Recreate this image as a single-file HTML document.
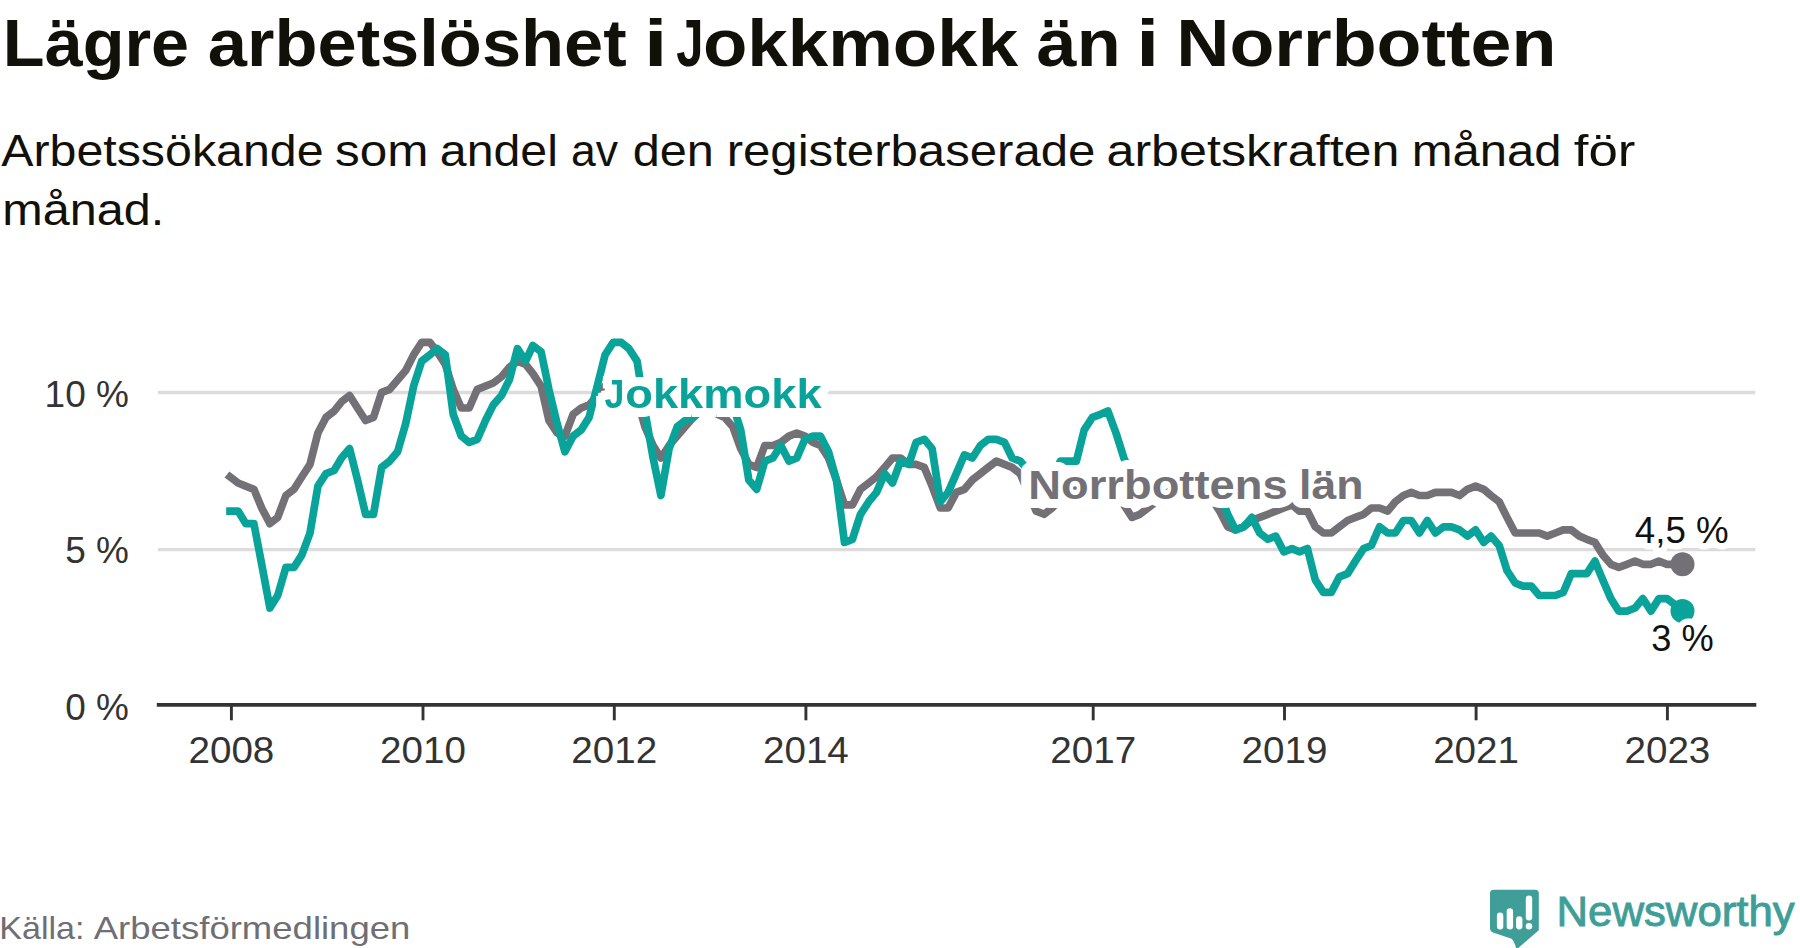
<!DOCTYPE html>
<html lang="sv"><head><meta charset="utf-8"><title>Lägre arbetslöshet i Jokkmokk än i Norrbotten</title>
<style>
html,body{margin:0;padding:0;background:#fff;}
body{width:1800px;height:948px;overflow:hidden;}
svg{display:block;font-family:"Liberation Sans", sans-serif;}
</style></head><body>
<svg width="1800" height="948" viewBox="0 0 1800 948">
<defs><filter id="halo" filterUnits="userSpaceOnUse" x="580" y="350" width="270" height="90" color-interpolation-filters="sRGB">
<feMorphology in="SourceAlpha" operator="dilate" radius="9 3.7" result="a"/>
<feMorphology in="SourceAlpha" operator="dilate" radius="3.7 9" result="b"/>
<feMorphology in="SourceAlpha" operator="dilate" radius="6.6 6.6" result="c"/>
<feMerge result="m"><feMergeNode in="a"/><feMergeNode in="b"/><feMergeNode in="c"/></feMerge>
<feFlood flood-color="#fff" result="w"/>
<feComposite in="w" in2="m" operator="in" result="h"/>
<feMerge><feMergeNode in="h"/><feMergeNode in="SourceGraphic"/></feMerge>
</filter></defs>
<rect width="1800" height="948" fill="#fff"/>
<text id="title" y="65.5" font-size="66" font-weight="bold" fill="#11110a"><tspan x="2.86" textLength="186.23" lengthAdjust="spacingAndGlyphs">Lägre</tspan> <tspan x="207.87" textLength="418.88" lengthAdjust="spacingAndGlyphs">arbetslöshet</tspan> <tspan x="644.11" textLength="23.44" lengthAdjust="spacingAndGlyphs">i</tspan> <tspan x="676.26" textLength="27.24" lengthAdjust="spacingAndGlyphs">J</tspan><tspan x="702.95" textLength="315.21" lengthAdjust="spacingAndGlyphs">okkmokk</tspan> <tspan x="1036.57" textLength="84.08" lengthAdjust="spacingAndGlyphs">än</tspan> <tspan x="1136.25" textLength="22.93" lengthAdjust="spacingAndGlyphs">i</tspan> <tspan x="1176.29" textLength="380.13" lengthAdjust="spacingAndGlyphs">Norrbotten</tspan></text>
<text id="sub1" y="165.7" font-size="44" font-weight="normal" fill="#11110a"><tspan x="1.25" textLength="322.28" lengthAdjust="spacingAndGlyphs">Arbetssökande</tspan> <tspan x="335.13" textLength="93.38" lengthAdjust="spacingAndGlyphs">som</tspan> <tspan x="439.81" textLength="118.13" lengthAdjust="spacingAndGlyphs">andel</tspan> <tspan x="570.98" textLength="47.01" lengthAdjust="spacingAndGlyphs">av</tspan> <tspan x="632.79" textLength="81.14" lengthAdjust="spacingAndGlyphs">den</tspan> <tspan x="726.65" textLength="368.81" lengthAdjust="spacingAndGlyphs">registerbaserade</tspan> <tspan x="1106.47" textLength="292.99" lengthAdjust="spacingAndGlyphs">arbetskraften</tspan> <tspan x="1411.66" textLength="149.93" lengthAdjust="spacingAndGlyphs">månad</tspan> <tspan x="1573.8" textLength="61.63" lengthAdjust="spacingAndGlyphs">för</tspan></text>
<text id="sub2" y="225.2" font-size="44" font-weight="normal" fill="#11110a"><tspan x="2.19" textLength="161.97" lengthAdjust="spacingAndGlyphs">månad.</tspan></text>
<line x1="158" x2="1755.3" y1="549.6" y2="549.6" stroke="#dcdcdc" stroke-width="3.4"/>
<line x1="158" x2="1755.3" y1="392.5" y2="392.5" stroke="#dcdcdc" stroke-width="3.4"/>
<text id="y0" x="128.9" y="719.7" font-size="36" font-weight="normal" fill="#333" text-anchor="end" textLength="63.7" lengthAdjust="spacingAndGlyphs">0 %</text>
<text id="y5" x="128.9" y="563.4" font-size="36" font-weight="normal" fill="#333" text-anchor="end" textLength="63.7" lengthAdjust="spacingAndGlyphs">5 %</text>
<text id="y10" x="128.9" y="406.5" font-size="36" font-weight="normal" fill="#333" text-anchor="end" textLength="84.3" lengthAdjust="spacingAndGlyphs">10 %</text>
<path d="M230.0,476.8L238.1,483.0L245.7,486.1L253.9,489.3L261.7,508.0L269.9,523.6L277.7,517.4L285.9,495.5L294.0,489.3L301.9,476.8L310.0,464.3L317.9,433.0L326.0,417.4L334.1,411.1L341.5,401.8L349.6,395.5L357.5,408.0L365.6,420.5L373.5,417.4L381.6,392.4L389.7,389.3L397.6,379.9L405.7,370.5L413.6,354.9L421.7,342.4L429.9,342.4L437.2,351.8L445.3,364.3L453.2,389.3L461.3,408.0L469.2,408.0L477.3,389.3L485.5,386.1L493.3,383.0L501.5,376.8L509.3,367.4L517.5,361.1L525.6,364.3L532.9,373.6L541.1,386.1L548.9,420.5L557.1,433.0L564.9,436.1L573.1,414.3L581.2,408.0L589.1,404.9L597.2,395.5L605.1,386.1L613.2,379.9L621.3,379.9L628.9,386.1L637.1,398.6L644.9,426.8L653.1,445.5L660.9,458.0L669.1,445.5L677.2,436.1L685.1,426.8L693.2,417.4L701.1,411.1L709.2,408.0L717.3,414.3L724.7,417.4L732.8,426.8L740.7,448.6L748.8,464.3L756.7,467.4L764.8,445.5L772.9,445.5L780.8,442.4L788.9,436.1L796.8,433.0L804.9,436.1L813.0,442.4L820.4,445.5L828.5,458.0L836.4,479.9L844.5,504.9L852.4,504.9L860.5,489.3L868.7,483.0L876.5,476.8L884.7,467.4L892.5,458.0L900.6,458.0L908.8,464.3L916.1,464.3L924.3,467.4L932.1,486.1L940.3,508.0L948.1,508.0L956.3,492.4L964.4,489.3L972.3,479.9L980.4,473.6L988.3,467.4L996.4,461.1L1004.5,464.3L1012.1,467.4L1020.2,473.6L1028.1,492.4L1036.2,511.1L1044.1,514.3L1052.2,508.0L1060.4,498.6L1068.2,492.4L1076.4,489.3L1084.2,486.1L1092.4,486.1L1100.5,489.3L1107.9,495.5L1116.0,498.6L1123.9,504.9L1132.0,517.4L1139.8,514.3L1148.0,508.0L1156.1,501.8L1164.0,495.5L1172.1,489.3L1180.0,486.1L1188.1,483.0L1196.2,486.1L1203.6,492.4L1211.7,498.6L1219.6,511.1L1227.7,526.8L1235.6,529.9L1243.7,526.8L1251.8,520.5L1259.7,517.4L1267.8,514.3L1275.7,511.1L1283.8,508.0L1292.0,504.9L1299.3,511.1L1307.4,511.1L1315.3,526.8L1323.4,533.0L1331.3,533.0L1339.4,526.8L1347.6,520.5L1355.4,517.4L1363.6,514.3L1371.4,508.0L1379.6,508.0L1387.7,511.1L1395.3,501.8L1403.4,495.5L1411.3,492.4L1419.4,495.5L1427.3,495.5L1435.4,492.4L1443.6,492.4L1451.4,492.4L1459.6,495.5L1467.4,489.3L1475.6,486.1L1483.7,489.3L1491.0,495.5L1499.2,501.8L1507.0,517.4L1515.2,533.0L1523.0,533.0L1531.2,533.0L1539.3,533.0L1547.2,536.1L1555.3,533.0L1563.2,529.9L1571.3,529.9L1579.4,536.1L1586.8,539.3L1594.9,542.4L1602.8,554.9L1610.9,564.3L1618.8,567.4L1626.9,564.3L1635.0,561.1L1642.9,564.3L1651.0,564.3L1658.9,561.1L1667.0,564.3L1675.2,564.3L1682.5,564.3" fill="none" stroke="#737176" stroke-width="7.7" stroke-linejoin="round" stroke-linecap="square"/>
<path d="M230.0,511.1L238.1,511.1L245.7,523.6L253.9,523.6L261.7,564.3L269.9,608.0L277.7,595.5L285.9,567.4L294.0,567.4L301.9,554.9L310.0,533.0L317.9,486.1L326.0,473.6L334.1,470.5L341.5,458.0L349.6,448.6L357.5,479.9L365.6,514.3L373.5,514.3L381.6,467.4L389.7,461.1L397.6,451.8L405.7,423.6L413.6,386.1L421.7,361.1L429.9,354.9L437.2,348.6L445.3,354.9L453.2,414.3L461.3,436.1L469.2,442.4L477.3,439.3L485.5,420.5L493.3,404.9L501.5,395.5L509.3,379.9L517.5,348.6L525.6,361.1L532.9,345.5L541.1,351.8L548.9,389.3L557.1,423.6L564.9,451.8L573.1,436.1L581.2,429.9L589.1,417.4L597.2,386.1L605.1,354.9L613.2,342.4L621.3,342.4L628.9,348.6L637.1,361.1L644.9,411.1L653.1,458.0L660.9,495.5L669.1,448.6L677.2,426.8L685.1,420.5L693.2,417.4L701.1,408.0L709.2,404.9L717.3,404.9L724.7,404.9L732.8,404.9L740.7,429.9L748.8,479.9L756.7,489.3L764.8,461.1L772.9,458.0L780.8,445.5L788.9,461.1L796.8,458.0L804.9,439.3L813.0,436.1L820.4,436.1L828.5,451.8L836.4,479.9L844.5,542.4L852.4,539.3L860.5,514.3L868.7,501.8L876.5,492.4L884.7,473.6L892.5,483.0L900.6,461.1L908.8,464.3L916.1,442.4L924.3,439.3L932.1,448.6L940.3,501.8L948.1,492.4L956.3,473.6L964.4,454.9L972.3,458.0L980.4,445.5L988.3,439.3L996.4,439.3L1004.5,442.4L1012.1,458.0L1020.2,461.1L1028.1,470.5L1036.2,473.6L1044.1,473.6L1052.2,479.9L1060.4,461.1L1068.2,461.1L1076.4,461.1L1084.2,429.9L1092.4,417.4L1100.5,414.3L1107.9,411.1L1116.0,433.0L1123.9,458.0L1132.0,476.8L1139.8,476.8L1148.0,476.8L1156.1,476.8L1164.0,476.8L1172.1,476.8L1180.0,476.8L1188.1,476.8L1196.2,476.8L1203.6,476.8L1211.7,479.9L1219.6,492.4L1227.7,514.3L1235.6,529.9L1243.7,526.8L1251.8,517.4L1259.7,533.0L1267.8,539.3L1275.7,536.1L1283.8,551.8L1292.0,548.6L1299.3,551.8L1307.4,548.6L1315.3,579.9L1323.4,592.4L1331.3,592.4L1339.4,576.8L1347.6,573.6L1355.4,561.1L1363.6,548.6L1371.4,545.5L1379.6,526.8L1387.7,533.0L1395.3,533.0L1403.4,520.5L1411.3,520.5L1419.4,533.0L1427.3,520.5L1435.4,533.0L1443.6,526.8L1451.4,526.8L1459.6,529.9L1467.4,536.1L1475.6,529.9L1483.7,542.4L1491.0,536.1L1499.2,545.5L1507.0,570.5L1515.2,583.0L1523.0,586.1L1531.2,586.1L1539.3,595.5L1547.2,595.5L1555.3,595.5L1563.2,592.4L1571.3,573.6L1579.4,573.6L1586.8,573.6L1594.9,561.1L1602.8,579.9L1610.9,598.6L1618.8,611.1L1626.9,611.1L1635.0,608.0L1642.9,598.6L1651.0,611.1L1658.9,598.6L1667.0,598.6L1675.2,604.9L1682.5,611.1" fill="none" stroke="#0aa39a" stroke-width="7.7" stroke-linejoin="round" stroke-linecap="square"/>
<line x1="156.8" x2="1756.3" y1="704.9" y2="704.9" stroke="#333" stroke-width="3.8"/>
<line x1="231.4" x2="231.4" y1="704.9" y2="720.3" stroke="#333" stroke-width="2.9"/>
<text id="x2008" x="231.4" y="762.6" font-size="36" font-weight="normal" fill="#333" text-anchor="middle" textLength="85.9" lengthAdjust="spacingAndGlyphs">2008</text>
<line x1="423.0" x2="423.0" y1="704.9" y2="720.3" stroke="#333" stroke-width="2.9"/>
<text id="x2010" x="423.0" y="762.6" font-size="36" font-weight="normal" fill="#333" text-anchor="middle" textLength="85.9" lengthAdjust="spacingAndGlyphs">2010</text>
<line x1="614.3" x2="614.3" y1="704.9" y2="720.3" stroke="#333" stroke-width="2.9"/>
<text id="x2012" x="614.3" y="762.6" font-size="36" font-weight="normal" fill="#333" text-anchor="middle" textLength="85.9" lengthAdjust="spacingAndGlyphs">2012</text>
<line x1="805.9" x2="805.9" y1="704.9" y2="720.3" stroke="#333" stroke-width="2.9"/>
<text id="x2014" x="805.9" y="762.6" font-size="36" font-weight="normal" fill="#333" text-anchor="middle" textLength="85.9" lengthAdjust="spacingAndGlyphs">2014</text>
<line x1="1093.2" x2="1093.2" y1="704.9" y2="720.3" stroke="#333" stroke-width="2.9"/>
<text id="x2017" x="1093.2" y="762.6" font-size="36" font-weight="normal" fill="#333" text-anchor="middle" textLength="85.9" lengthAdjust="spacingAndGlyphs">2017</text>
<line x1="1284.5" x2="1284.5" y1="704.9" y2="720.3" stroke="#333" stroke-width="2.9"/>
<text id="x2019" x="1284.5" y="762.6" font-size="36" font-weight="normal" fill="#333" text-anchor="middle" textLength="85.9" lengthAdjust="spacingAndGlyphs">2019</text>
<line x1="1476.1" x2="1476.1" y1="704.9" y2="720.3" stroke="#333" stroke-width="2.9"/>
<text id="x2021" x="1476.1" y="762.6" font-size="36" font-weight="normal" fill="#333" text-anchor="middle" textLength="85.9" lengthAdjust="spacingAndGlyphs">2021</text>
<line x1="1667.4" x2="1667.4" y1="704.9" y2="720.3" stroke="#333" stroke-width="2.9"/>
<text id="x2023" x="1667.4" y="762.6" font-size="36" font-weight="normal" fill="#333" text-anchor="middle" textLength="85.9" lengthAdjust="spacingAndGlyphs">2023</text>
<circle cx="1682.5" cy="564.3" r="12" fill="#737176"/>
<circle cx="1682.5" cy="611.1" r="12" fill="#0aa39a"/>
<text id="lab_j" y="407.6" font-size="40" font-weight="bold" fill="#0aa39a" filter="url(#halo)"><tspan x="604.61" textLength="19.91" lengthAdjust="spacingAndGlyphs">J</tspan><tspan x="625.24" textLength="196.34" lengthAdjust="spacingAndGlyphs">okkmokk</tspan></text>
<text id="lab_n" y="499.2" font-size="40" font-weight="bold" fill="#737176" stroke="#fff" stroke-width="18" stroke-linejoin="round" paint-order="stroke"><tspan x="1028.3" textLength="259.34" lengthAdjust="spacingAndGlyphs">Norrbottens</tspan> <tspan x="1299.05" textLength="64.47" lengthAdjust="spacingAndGlyphs">län</tspan></text>
<text id="val_n" x="1634.8" y="543.0" font-size="37.5" font-weight="normal" fill="#111" text-anchor="start" textLength="93.8" lengthAdjust="spacingAndGlyphs" stroke="#fff" stroke-width="13" stroke-linejoin="round" paint-order="stroke">4,5 %</text>
<text id="val_j" x="1651.3" y="651.0" font-size="37.5" font-weight="normal" fill="#111" text-anchor="start" textLength="62.5" lengthAdjust="spacingAndGlyphs" stroke="#fff" stroke-width="13" stroke-linejoin="round" paint-order="stroke">3 %</text>
<text id="src" y="938.7" font-size="32" font-weight="normal" fill="#6e6e73"><tspan x="-0.69" textLength="85.19" lengthAdjust="spacingAndGlyphs">Källa:</tspan> <tspan x="93.75" textLength="316.58" lengthAdjust="spacingAndGlyphs">Arbetsförmedlingen</tspan></text>
<g id="logo">
<path d="M1493.6,889.7 H1535.2 A3.6,3.6 0 0 1 1538.8,893.3 V930.2 L1516.5,949.5 Q1514.5,941.5 1511.6,938.8 L1493,932.5 Q1490,931.3 1490,928 V893.3 A3.6,3.6 0 0 1 1493.6,889.7 Z" fill="#3f9e98"/>
<rect x="1496.9" y="912.6" width="6.4" height="16.9" rx="3.2" fill="#fff"/>
<rect x="1506.7" y="908.3" width="6.4" height="21.2" rx="3.2" fill="#fff"/>
<rect x="1516.1" y="916.2" width="6.3" height="13.3" rx="3.15" fill="#fff"/>
<rect x="1525.8" y="895.4" width="6.4" height="25.1" rx="3.2" fill="#fff"/>
<circle cx="1529" cy="926.3" r="3.25" fill="#fff"/>
</g>
<text id="brand" x="1556.5" y="925.7" font-size="42.3" font-weight="normal" fill="#3f9e98" text-anchor="start" textLength="238.2" lengthAdjust="spacingAndGlyphs" stroke="#3f9e98" stroke-width="0.9">Newsworthy</text>
</svg></body></html>
